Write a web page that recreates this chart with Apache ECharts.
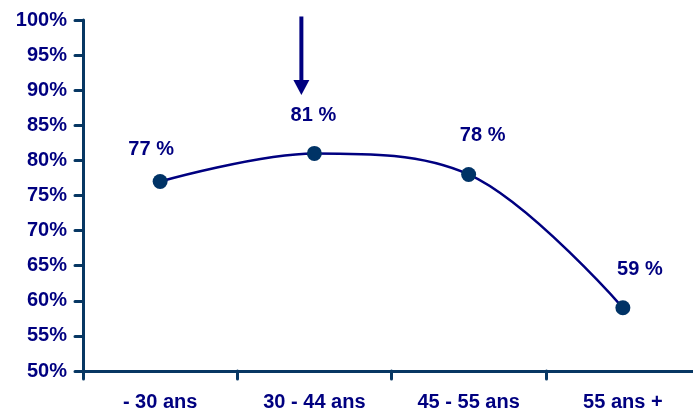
<!DOCTYPE html>
<html>
<head>
<meta charset="utf-8">
<script src="https://cdn.jsdelivr.net/npm/echarts@6/dist/echarts.min.js"></script>
<style>
  html, body { margin: 0; padding: 0; background: #ffffff; overflow: hidden; }
  #chart { width: 693px; height: 412px; }
</style>
</head>
<body>
<div id="chart"></div>
<script>
// Age groups and share of respondents (%)
const categories = ['- 30 ans', '30 - 44 ans', '45 - 55 ans', '55 ans +'];
const values = [77, 81, 78, 59];
const yMin = 50, yMax = 100, yStep = 5;

// Pixel nudges for the value labels, one per point [dx, dy]
const labelShift = [[-9, -32], [-1, -38], [14, -39], [17, -38]];

const NAVY = '#000080';
const AXIS = '#073763';
const FONT = 'Liberation Sans';
const FSIZE = 20;

const chart = echarts.init(document.getElementById('chart'), null, { renderer: 'canvas' });

chart.setOption({
  backgroundColor: '#ffffff',
  animation: false,
  // the category axis runs a little past the right edge of the canvas
  grid: { left: 83, width: 617, top: 20, bottom: 41, containLabel: false, outerBoundsMode: 'none' },
  xAxis: {
    type: 'category',
    data: categories,
    boundaryGap: true,
    axisLine: { show: true, lineStyle: { color: AXIS, width: 3, cap: 'round' } },
    axisTick: { show: true, inside: false, length: 8, lineStyle: { color: AXIS, width: 3, cap: 'round' } },
    axisLabel: { margin: 21, color: NAVY, fontFamily: FONT, fontWeight: 'bold', fontSize: FSIZE },
    splitLine: { show: false }
  },
  yAxis: {
    type: 'value',
    min: yMin, max: yMax, interval: yStep,
    axisLine: { show: true, lineStyle: { color: AXIS, width: 3, cap: 'round' } },
    axisTick: { show: true, inside: false, length: 8, lineStyle: { color: AXIS, width: 3, cap: 'round' } },
    axisLabel: { margin: 16, color: NAVY, fontFamily: FONT, fontWeight: 'bold', fontSize: FSIZE, formatter: '{value}%' },
    splitLine: { show: false }
  },
  series: [{
    type: 'line',
    smooth: 0.35,
    data: values.map((v, i) => ({
      value: v,
      label: { offset: labelShift[i] }
    })),
    lineStyle: { color: NAVY, width: 2.5 },
    symbol: 'circle',
    symbolSize: 15,
    itemStyle: { color: '#003366' },
    label: {
      show: true,
      position: 'inside',
      formatter: '{c} %',
      color: NAVY,
      fontFamily: FONT,
      fontWeight: 'bold',
      fontSize: FSIZE
    },
    z: 3
  }]
});

// Downward arrow pointing at the second age group
function drawArrow() {
  const cx = chart.convertToPixel({ xAxisIndex: 0 }, categories[1]) - 13;
  const yTop = chart.convertToPixel({ yAxisIndex: 0 }, 100.5);
  const yTip = chart.convertToPixel({ yAxisIndex: 0 }, 89.3);
  const headH = 15, headW = 8;
  chart.setOption({
    graphic: [
      {
        type: 'line',
        shape: { x1: cx, y1: yTop, x2: cx, y2: yTip - headH + 1 },
        style: { stroke: NAVY, lineWidth: 4 },
        z: 10
      },
      {
        type: 'polygon',
        shape: { points: [[cx - headW, yTip - headH], [cx + headW, yTip - headH], [cx, yTip]] },
        style: { fill: NAVY },
        z: 10
      }
    ]
  });
}
drawArrow();
</script>
</body>
</html>
